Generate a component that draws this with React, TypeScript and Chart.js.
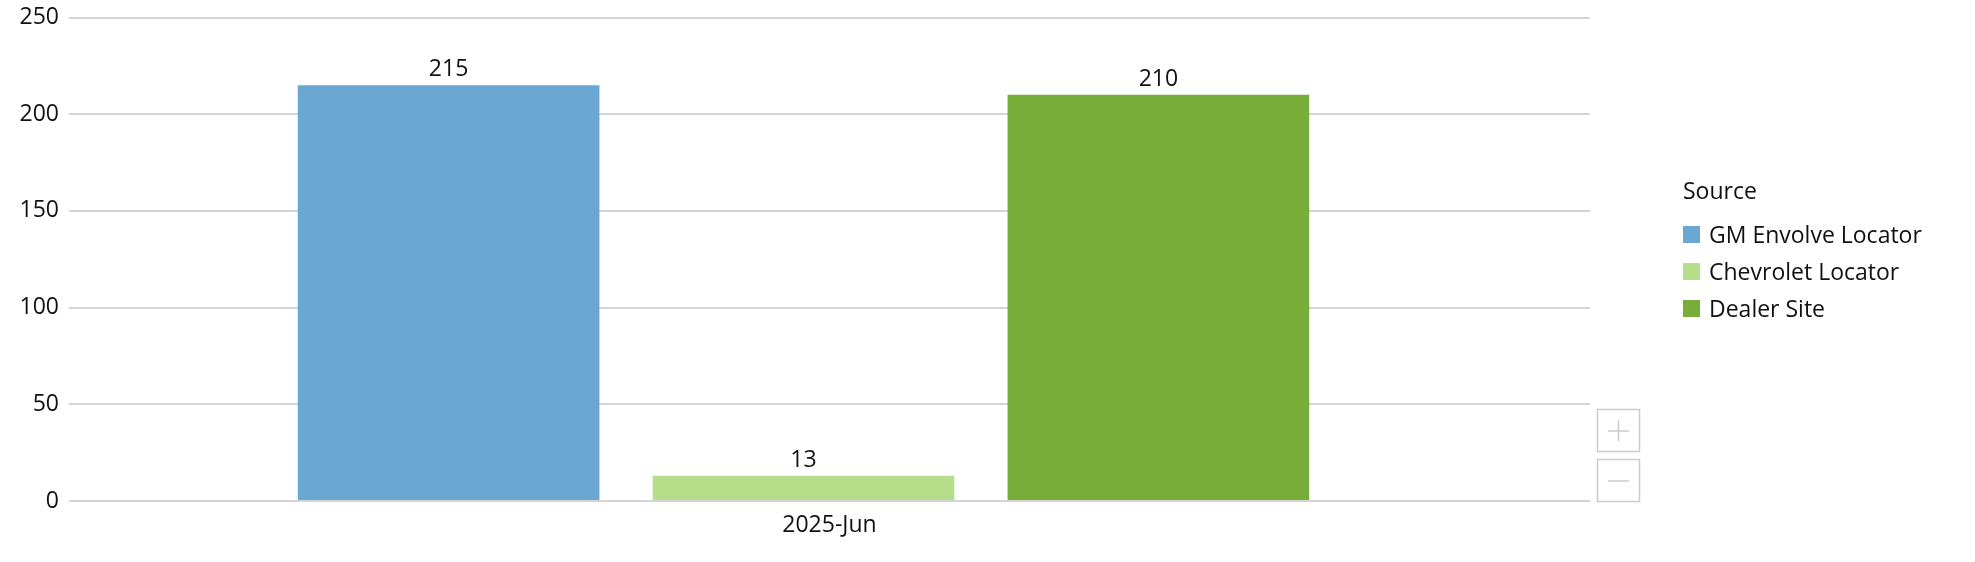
import React, { useEffect, useRef } from "react";
import { Chart, registerables } from "chart.js";

Chart.register(...registerables);

const categories = ["2025-Jun"];
const seriesNames = ["GM Envolve Locator", "Chevrolet Locator", "Dealer Site"];
const gmEnvolveLocator = [215];
const chevroletLocator = [13];
const dealerSite = [210];
const yMin = 0;
const yMax = 250;
const yStep = 50;
const legendTitle = "Source";
const seriesColors = ["#6aa7d3", "#b4de8a", "#78ad39"];

const FONT = '"Open Sans", "Noto Sans", sans-serif';
const FS = 23;

const valueLabelsPlugin = {
  id: "valueLabels",
  afterDatasetsDraw(chart: any) {
    const ctx = chart.ctx;
    ctx.save();
    ctx.font = `${FS}px ${FONT}`;
    ctx.fillStyle = "#111111";
    ctx.textAlign = "center";
    ctx.textBaseline = "alphabetic";
    chart.data.datasets.forEach((ds: any, di: number) => {
      const meta = chart.getDatasetMeta(di);
      meta.data.forEach((el: any, i: number) => {
        ctx.fillText(String(ds.data[i]), el.x, el.y - 9);
      });
    });
    ctx.restore();
  },
};

const sideLegendPlugin = {
  id: "sideLegend",
  afterDraw(chart: any) {
    const ctx = chart.ctx;
    const area = chart.chartArea;
    ctx.save();
    const lx = area.right + 93;
    ctx.font = `${FS}px ${FONT}`;
    ctx.fillStyle = "#111111";
    ctx.textAlign = "left";
    ctx.textBaseline = "alphabetic";
    ctx.fillText(legendTitle, lx, 199);
    chart.data.datasets.forEach((ds: any, i: number) => {
      const top = 226 + i * 37;
      ctx.fillStyle = ds.backgroundColor;
      ctx.fillRect(lx, top, 17, 17);
      ctx.fillStyle = "#111111";
      ctx.fillText(ds.label, lx + 26, top + 17);
    });

    // zoom buttons
    ctx.strokeStyle = "#cccccc";
    ctx.lineWidth = 1.5;
    const bx = area.right + 7.5;
    const boxes = [409.5, 459.5];
    boxes.forEach((by) => {
      ctx.strokeRect(bx, by, 42, 42);
    });
    ctx.beginPath();
    ctx.moveTo(bx + 10.5, 431);
    ctx.lineTo(bx + 31.5, 431);
    ctx.moveTo(bx + 21, 420);
    ctx.lineTo(bx + 21, 441);
    ctx.moveTo(bx + 10.5, 481);
    ctx.lineTo(bx + 31.5, 481);
    ctx.stroke();
    ctx.restore();
  },
};

export default function App() {
  const ref = useRef<HTMLCanvasElement | null>(null);

  useEffect(() => {
    if (!ref.current) return;
    const seriesData = [gmEnvolveLocator, chevroletLocator, dealerSite];
    const chart = new Chart(ref.current, {
      type: "bar",
      data: {
        labels: categories,
        datasets: seriesNames.map((name, i) => ({
          label: name,
          data: seriesData[i],
          backgroundColor: seriesColors[i],
          borderWidth: 0,
          categoryPercentage: 0.7,
          barPercentage: 0.85,
        })),
      },
      options: {
        animation: false,
        responsive: false,
        maintainAspectRatio: false,
        layout: { padding: { left: 0, right: 385, top: 17.5, bottom: 0 } },
        plugins: {
          legend: { display: false },
          tooltip: { enabled: false },
          title: { display: false },
        },
        scales: {
          x: {
            grid: { display: false },
            border: { display: false },
            ticks: {
              color: "#111111",
              font: { family: FONT, size: FS },
              padding: 3,
              labelOffset: 26,
            },
            afterBuildTicks(scale: any) {
              // group of bars sits slightly left of the category centre
              scale._startValue = -0.4829;
            },
            afterFit(scale: any) {
              scale.height = 61;
            },
          },
          y: {
            min: yMin,
            max: yMax,
            grid: {
              color: "#d4d4d4",
              lineWidth: 2,
              drawTicks: true,
              tickLength: 10,
              tickColor: "rgba(0,0,0,0)",
            },
            border: { display: false },
            ticks: {
              stepSize: yStep,
              color: "#111111",
              font: { family: FONT, size: FS, lineHeight: 1 },
              padding: 0,
            },
            afterFit(scale: any) {
              scale.width = 69;
            },
          },
        },
      },
      plugins: [valueLabelsPlugin, sideLegendPlugin],
    });
    return () => chart.destroy();
  }, []);

  return (
    <div style={{ position: "absolute", left: 0, top: 0, width: 1975, height: 562, background: "#fff" }}>
      <canvas ref={ref} width={1975} height={562} style={{ width: 1975, height: 562, display: "block" }} />
    </div>
  );
}
